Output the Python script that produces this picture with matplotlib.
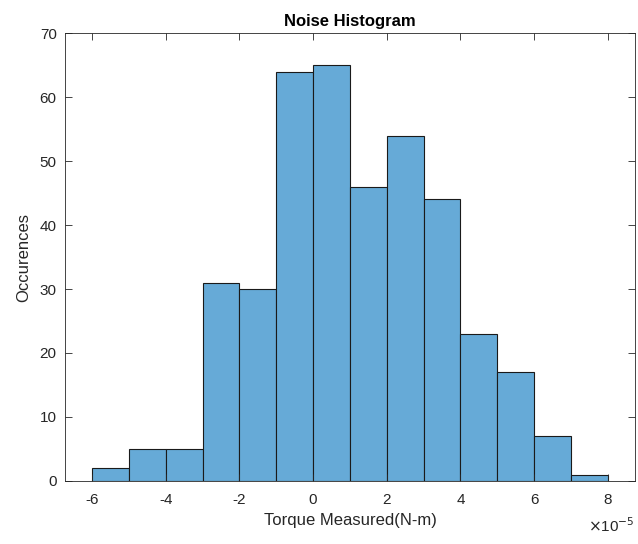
import matplotlib
matplotlib.use("Agg")
import matplotlib.pyplot as plt
import numpy as np

# bin edges in units of 1e-5 N-m
bin_edges = [-6, -5, -4, -3, -2, -1, 0, 1, 2, 3, 4, 5, 6, 7, 8]
counts = [2, 5, 5, 31, 30, 64, 65, 46, 54, 44, 23, 17, 7, 1]
x_ticks = [-6, -4, -2, 0, 2, 4, 6, 8]
y_ticks = [0, 10, 20, 30, 40, 50, 60, 70]

plt.rcParams["font.family"] = ["Liberation Sans", "DejaVu Sans"]

fig = plt.figure(figsize=(6.38, 5.44), dpi=100)
ax = fig.add_axes([0.102, 0.116, 0.893, 0.823])

edges = np.array(bin_edges)
ax.bar(edges[:-1], counts, width=np.diff(edges), align="edge",
       color=(0.4, 0.668, 0.845), edgecolor="#1a1a1a", linewidth=0.8)

ax.set_xlim(-6.73, 8.73)
ax.set_ylim(0, 70)
ax.set_xticks(x_ticks)
ax.set_xticklabels([str(t) for t in x_ticks])
ax.set_yticks(y_ticks)

for s in ax.spines.values():
    s.set_color("#262626")
    s.set_linewidth(0.6)
ax.tick_params(direction="in", top=True, right=True, length=5, width=0.6,
               colors="#262626", labelsize=11)
ax.tick_params(axis="x", pad=9)
ax.tick_params(axis="y", pad=6)

ax.set_title("Noise Histogram", fontsize=12, fontweight="bold", pad=5)
ax.set_xlabel("Torque Measured(N-m)", fontsize=12, color="#262626", labelpad=4)
ax.set_ylabel("Occurences", fontsize=12, color="#262626", labelpad=6)
ax.text(1.0, -0.08, r"$\times$10$^{-5}$", transform=ax.transAxes,
        ha="right", va="top", fontsize=11, color="#262626")

fig.savefig("out.png", dpi=100)
